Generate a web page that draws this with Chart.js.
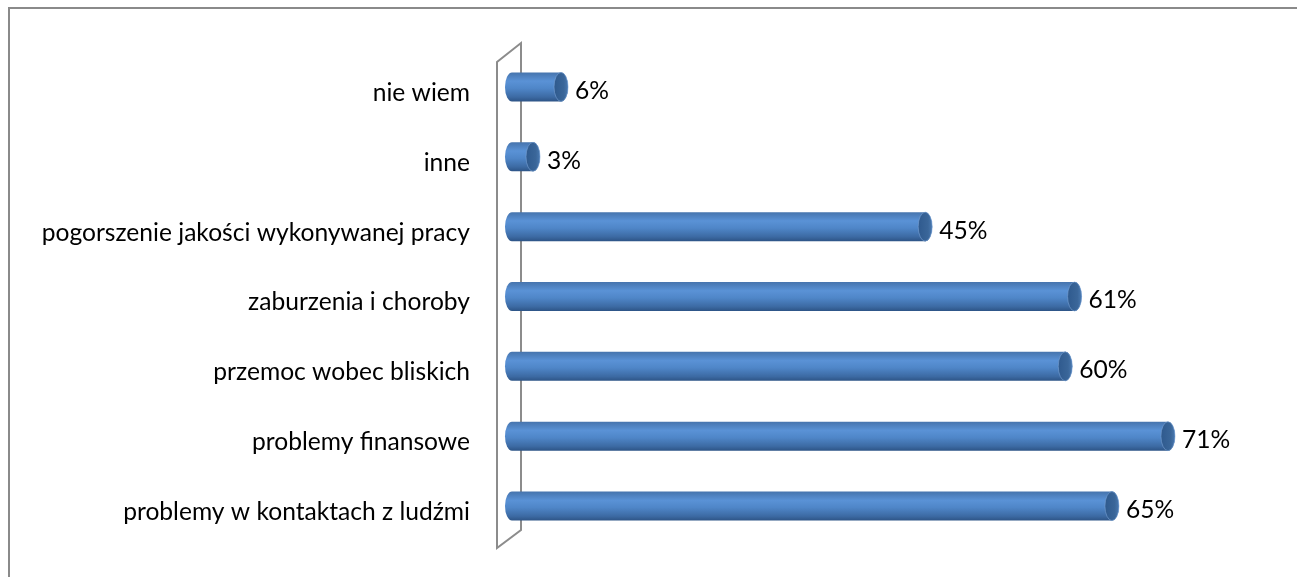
<!DOCTYPE html>
<html>
<head>
<meta charset="utf-8">
<script src="https://cdn.jsdelivr.net/npm/chart.js@4.4.0/dist/chart.umd.min.js"></script>
<style>
  html, body { margin: 0; padding: 0; background: #fff; }
  #wrap { width: 1297px; height: 577px; position: relative; }
</style>
</head>
<body>
<div id="wrap"><canvas id="myChart" width="1297" height="577"></canvas></div>
<script>
const categories = [
  "nie wiem",
  "inne",
  "pogorszenie jakości wykonywanej pracy",
  "zaburzenia i choroby",
  "przemoc wobec bliskich",
  "problemy finansowe",
  "problemy w kontaktach z ludźmi"
];
const percents = [6, 3, 45, 61, 60, 71, 65];
const axisMin = 0;
const axisMax = 80;

const FONT = "Lato";
const FONT_SIZE = 24.6;

// frame, 3D wall behind the bars
const framePlugin = {
  id: "frame",
  beforeDraw(chart) {
    const ctx = chart.ctx;
    ctx.save();
    ctx.strokeStyle = "#8a8a8a";
    ctx.lineWidth = 2;
    ctx.strokeRect(9, 8, 2000, 2000);
    ctx.restore();
  },
  beforeDatasetsDraw(chart) {
    const ctx = chart.ctx;
    const area = chart.chartArea;
    const x0 = chart.scales.x.getPixelForValue(0);
    ctx.save();
    ctx.strokeStyle = "#8c8c8c";
    ctx.lineWidth = 2;
    ctx.beginPath();
    ctx.moveTo(x0 - 15, area.bottom + 7);
    ctx.lineTo(x0 - 15, area.top + 10);
    ctx.lineTo(x0 + 9, area.top - 9);
    ctx.lineTo(x0 + 9, area.bottom - 11);
    ctx.closePath();
    ctx.stroke();
    ctx.restore();
  }
};

// cylinders + value labels
const cylinderPlugin = {
  id: "cylinder",
  afterDatasetsDraw(chart) {
    const ctx = chart.ctx;
    const meta = chart.getDatasetMeta(0);
    meta.data.forEach((bar, i) => {
      const p = bar.getProps(["x", "y", "base", "height"], true);
      const h = p.height;
      const top = p.y - h / 2;
      const rx = 7;
      const ry = h / 2;
      const right = p.x - rx;

      const g = ctx.createLinearGradient(0, top, 0, top + h);
      g.addColorStop(0, "#4674ad");
      g.addColorStop(0.3, "#5a92d6");
      g.addColorStop(0.55, "#4f86c8");
      g.addColorStop(0.85, "#3c6aa3");
      g.addColorStop(1, "#2d5486");

      ctx.save();
      ctx.fillStyle = g;
      ctx.beginPath();
      ctx.ellipse(p.base, p.y, rx, ry, 0, Math.PI / 2, Math.PI * 1.5);
      ctx.lineTo(right, top);
      ctx.ellipse(right, p.y, rx, ry, 0, -Math.PI / 2, Math.PI / 2);
      ctx.closePath();
      ctx.fill();

      // right end cap
      const cg = ctx.createLinearGradient(right - rx, 0, right + rx, 0);
      cg.addColorStop(0, "#2f5a8e");
      cg.addColorStop(0.7, "#3a6699");
      cg.addColorStop(1, "#4a79b0");
      ctx.fillStyle = cg;
      ctx.beginPath();
      ctx.ellipse(right, p.y, rx, ry, 0, 0, Math.PI * 2);
      ctx.fill();
      ctx.strokeStyle = "rgba(120,160,210,0.6)";
      ctx.lineWidth = 1;
      ctx.stroke();

      // value label
      ctx.fillStyle = "#000";
      ctx.font = FONT_SIZE + "px " + FONT;
      ctx.textAlign = "left";
      ctx.textBaseline = "middle";
      ctx.fillText(percents[i] + "%", p.x + 7, p.y + 4);
      ctx.restore();
    });
  }
};

const ctx = document.getElementById("myChart").getContext("2d");
const myChart = new Chart(ctx, {
  type: "bar",
  data: {
    labels: categories,
    datasets: [
      {
        data: percents,
        backgroundColor: "rgba(0,0,0,0)",
        borderWidth: 0,
        barPercentage: 0.415,
        categoryPercentage: 1
      }
    ]
  },
  options: {
    indexAxis: "y",
    responsive: false,
    animation: false,
    layout: { padding: { left: 0, right: 38, top: 52, bottom: 36 } },
    plugins: { legend: { display: false }, tooltip: { enabled: false } },
    scales: {
      x: { display: false, min: axisMin, max: axisMax },
      y: {
        grid: { display: false, drawTicks: false },
        border: { display: false },
        ticks: {
          color: "#000",
          padding: 42,
          labelOffset: 6,
          font: { family: FONT, size: FONT_SIZE }
        },
        afterFit(scale) {
          scale.width = 512;
          scale.paddingTop = 0;
          scale.paddingBottom = 0;
        }
      }
    }
  },
  plugins: [framePlugin, cylinderPlugin]
});
</script>
</body>
</html>
